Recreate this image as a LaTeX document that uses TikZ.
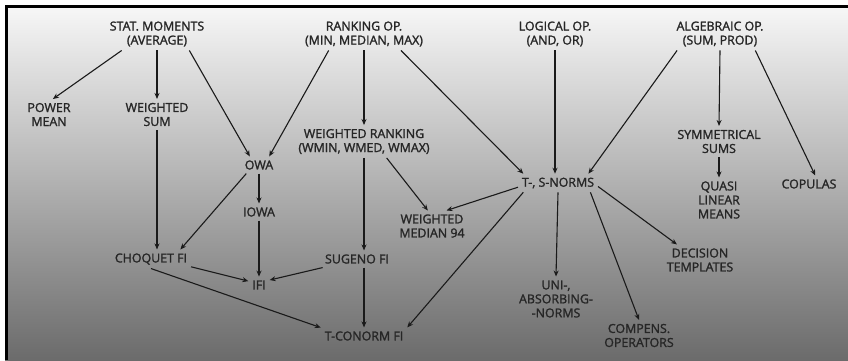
\documentclass[tikz,border=0pt]{standalone}
\usepackage{fontspec}
\newfontfamily\opfont[FakeBold=1.6]{Open Sans}
\usetikzlibrary{arrows.meta}
\definecolor{labelgray}{HTML}{262626}
\definecolor{arrowgray}{HTML}{1A1A1A}
\tikzset{
  op/.style={align=center, text=labelgray, font=\opfont\fontsize{12.4}{14}\selectfont, inner sep=1pt, outer sep=3pt},
  link/.style={draw=arrowgray, line width=1.1pt, -{Stealth[length=6pt,width=5pt]}}
}

\begin{document}
\begin{tikzpicture}[x=1pt,y=-1pt]
			%%%%% START %%%%%
			\useasboundingbox (0,0) rectangle (848,360);
			
			\shade[top color=white!97!black, middle color=black!33, bottom color=black!58] (5,5) rectangle (848,360);
			\draw[line width=3pt, black] (5,6.5) -- (848,6.5);
			\draw[line width=2.5pt, black] (6.25,5) -- (6.25,360);
			
			\node[op] (stat) at (157,34) {STAT. MOMENTS\\(AVERAGE)};
			\node[op] (rank) at (364,34) {RANKING OP.\\(MIN, MEDIAN, MAX)};
			\node[op] (logic) at (555,34) {LOGICAL OP.\\(AND, OR)};
			\node[op] (alg) at (720,34) {ALGEBRAIC OP.\\(SUM, PROD)};
			
			\node[op] (power) at (49,114.5) {POWER\\MEAN};
			\node[op] (wsum) at (157,114.5) {WEIGHTED\\SUM};
			\node[op] (wrank) at (364,141.5) {WEIGHTED RANKING\\(WMIN, WMED, WMAX)};
			\node[op] (sym) at (719,141.5) {SYMMETRICAL\\SUMS};
			
			\node[op] (owa) at (259,165) {OWA};
			\node[op] (iowa) at (259,212) {IOWA};
			\node[op] (tsnorm) at (558,183) {T-, S-NORMS};
			\node[op] (copulas) at (809,184) {COPULAS};
			\node[op] (quasi) at (719,200) {QUASI\\LINEAR\\MEANS};
			\node[op] (wmed) at (432,226) {WEIGHTED\\MEDIAN 94};
			
			\node[op] (choquet) at (151,259) {CHOQUET FI};
			\node[op] (sugeno) at (357,259) {SUGENO FI};
			\node[op] (decision) at (700,260) {DECISION\\TEMPLATES};
			\node[op] (ifi) at (259,285) {IFI};
			\node[op] (uni) at (556,299) {UNI-,\\ABSORBING-\\-NORMS};
			\node[op] (compens) at (639,335.5) {COMPENS.\\OPERATORS};
			\node[op] (tconorm) at (364,336) {T-CONORM FI};
			
			% from the four roots
			\draw[link] (stat.205) -- (power.76);
			\draw[link] (stat.south) -- (wsum.north);
			\draw[link] (stat.333) -- (owa.137);
			\draw[link] (rank.205) -- (owa.40);
			\draw[link] (rank.south) -- (wrank.north);
			\draw[link] (rank.336) -- (tsnorm.165);
			\draw[link] (logic.south) -- (logic.south |- tsnorm.north);
			\draw[link] (alg.201) -- (tsnorm.17);
			\draw[link] (alg.south) -- (sym.north);
			\draw[link] (alg.335) -- (copulas.54);
			\draw[link] (sym.south) -- (quasi.north);
			
			% fuzzy integrals
			\draw[link] (wsum.south) -- (wsum.south |- choquet.north);
			\draw[link] (owa.214) -- (choquet.18);
			\draw[link] (owa.south) -- (iowa.north);
			\draw[link] (iowa.south) -- (ifi.north);
			\draw[link] (choquet.-11) -- (ifi.160);
			\draw[link] (sugeno.194) -- (ifi.25);
			\draw[link] (wrank.south) -- (wrank.south |- sugeno.north);
			\draw[link] (wrank.324) -- (wmed.105);
			\draw[link] (choquet.south) -- (tconorm.169);
			\draw[link] (sugeno.south -| tconorm.north) -- (tconorm.north);
			
			% norms
			\draw[link] (tsnorm.186) -- (wmed.47);
			\draw[link] (tsnorm.195) -- (tconorm.north east);
			\draw[link] (tsnorm.south) -- (uni.north);
			\draw[link] (tsnorm.-16) -- (compens.north);
			\draw[link] (tsnorm.-5) -- (decision.146);
			
			%%%%% END %%%%%
\end{tikzpicture}
\end{document}
